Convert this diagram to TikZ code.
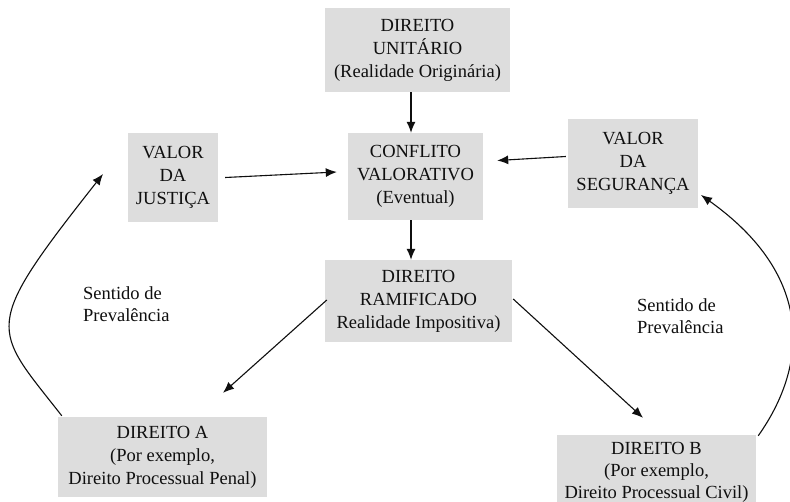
\documentclass[tikz,border=0pt]{standalone}
\usepackage{fontspec}
\setmainfont{Liberation Serif}
\usetikzlibrary{arrows.meta}
\definecolor{boxgray}{RGB}{221,221,221}
\definecolor{ink}{RGB}{15,15,15}
\tikzset{
  box/.style={fill=boxgray, draw=none, align=center, text=ink, inner sep=0pt,
    font=\fontsize{18.5}{23}\selectfont},
  lbl/.style={align=left, anchor=west, text=ink, inner sep=0pt,
    font=\fontsize{18.5}{22}\selectfont},
  arr/.style={draw=ink, line width=1.1pt, -{Latex[length=11pt,width=9pt]}},
}
\begin{document}
\begin{tikzpicture}[x=1pt,y=-1pt]
\useasboundingbox (0,0) rectangle (790,501);
\fill[white] (0,0) rectangle (790,501);
% boxes
\node[box, minimum width=185pt, minimum height=84pt] (uni) at (417.5,50)
  {DIREITO\\UNITÁRIO\\(Realidade Originária)};
\node[box, minimum width=90pt, minimum height=89pt] (just) at (173,177.5)
  {VALOR\\DA\\JUSTIÇA};
\node[box, minimum width=135pt, minimum height=87pt] (conf) at (415.5,176.5)
  {CONFLITO\\VALORATIVO\\(Eventual)};
\node[box, minimum width=130pt, minimum height=89pt] (seg) at (633,163.5)
  {VALOR\\DA\\SEGURANÇA};
\node[box, minimum width=187pt, minimum height=82pt] (ram) at (418.5,301)
  {DIREITO\\RAMIFICADO\\Realidade Impositiva)};
\node[box, minimum width=209pt, minimum height=80pt] (dA) at (162.5,457)
  {DIREITO A\\(Por exemplo,\\Direito Processual Penal)};
\node[box, minimum width=199pt, minimum height=74pt, font=\fontsize{18.5}{22}\selectfont] (dB) at (656.5,472)
  {DIREITO B\\(Por exemplo,\\Direito Processual Civil)};
% labels
\node[lbl] (l1) at (83,304) {Sentido de\\Prevalência};
\node[lbl] (l2) at (637,316) {Sentido de\\Prevalência};
% arrows
\coordinate (vx) at (411,0);
\draw[arr] (uni.south -| vx) -- (conf.north -| vx);
\draw[arr] (conf.south -| vx) -- (ram.north -| vx);
\draw[arr] ([xshift=7pt]just.east) -- ([xshift=-11pt,yshift=4.5pt]conf.west);
\draw[arr] ([xshift=-2pt,yshift=7pt]seg.west) -- ([xshift=14pt,yshift=16pt]conf.east);
\draw[arr] ([xshift=2pt,yshift=1pt]ram.west) -- ([xshift=60.5pt,yshift=24pt]dA.north);
\draw[arr] ([xshift=1pt,yshift=2pt]ram.east) -- ([xshift=-13.5pt,yshift=17pt]dB.north);
\draw[arr] ([xshift=4pt,yshift=1pt]dA.north west) .. controls (-8,326.5) and (-20,330) .. (103,174);
\draw[arr] ([xshift=2pt,yshift=-1pt]dB.north east) .. controls (807,367) and (816,277) .. (701,195);
\end{tikzpicture}
\end{document}
